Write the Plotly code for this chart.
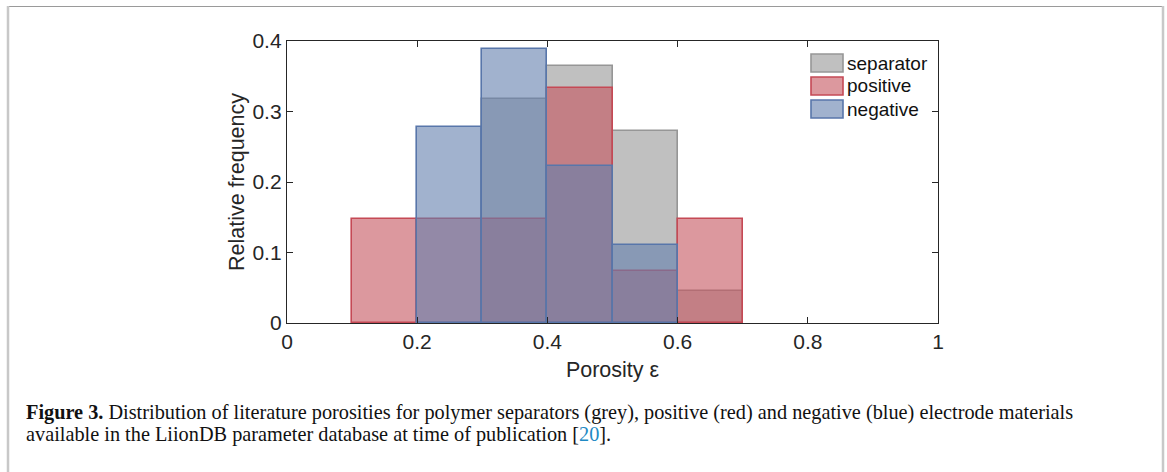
import plotly.graph_objects as go

# bin edges 0..1 step 0.1, values = relative frequency per bin
bin_left = [0.0, 0.1, 0.2, 0.3, 0.4, 0.5, 0.6, 0.7, 0.8, 0.9]
separator = [0, 0, 0, 0.318, 0.364, 0.273, 0.045, 0, 0, 0]
positive = [0, 0.148, 0.148, 0.148, 0.333, 0.074, 0.148, 0, 0, 0]
negative = [0, 0, 0.278, 0.389, 0.222, 0.111, 0, 0, 0, 0]
names = ["separator", "positive", "negative"]

fills = ["rgba(150,150,150,0.6)", "rgba(197,83,93,0.6)", "rgba(98,127,173,0.6)"]
edges = ["rgb(150,150,150)", "rgb(197,73,85)", "rgb(88,118,170)"]

W, H = 1167, 472
L, R, T, B = 287, 938, 41, 323  # plot area in px


def px_x(p):
    return (p - L) / (R - L)


def px_y(p):
    return (B - p) / (B - T)


fig = go.Figure()
for vals, name, fc, ec in zip([separator, positive, negative], names, fills, edges):
    # empty bins are left out so their outline does not sit on the axis
    fig.add_trace(go.Bar(
        x=[b + 0.05 for b in bin_left], y=[v if v else None for v in vals], width=0.1, name=name,
        marker=dict(color=fc, line=dict(color=ec, width=1.6)),
        showlegend=False,
    ))

sans = "Liberation Sans, Arial, sans-serif"
dark = "#262626"

fig.update_layout(
    width=W, height=H,
    margin=dict(l=L, r=W - R, t=T, b=H - B, autoexpand=False),
    paper_bgcolor="white", plot_bgcolor="white",
    barmode="overlay", bargap=0,
    font=dict(family=sans, size=21, color=dark),
    xaxis=dict(
        range=[0, 1], tickvals=[0, 0.2, 0.4, 0.6, 0.8, 1], ticktext=["0", "0.2", "0.4", "0.6", "0.8", "1"],
        ticks="inside", ticklen=6, tickcolor=dark, tickwidth=1.3,
        showline=True, linecolor=dark, linewidth=1.3, mirror="allticks",
        showgrid=False, zeroline=False, layer="above traces",
        tickfont=dict(size=21),
        title=dict(text="Porosity ε", font=dict(size=21.5), standoff=9),
    ),
    yaxis=dict(
        range=[0, 0.4], tickvals=[0, 0.1, 0.2, 0.3, 0.4], ticktext=["0", "0.1", "0.2", "0.3", "0.4"],
        ticks="inside", ticklen=6, tickcolor=dark, tickwidth=1.3,
        showline=True, linecolor=dark, linewidth=1.3, mirror="allticks",
        showgrid=False, zeroline=False, layer="above traces",
        tickfont=dict(size=21),
        title=dict(text="Relative frequency", font=dict(size=21.5), standoff=1),
    ),
)

# legend drawn by hand (wide swatches like the original)
for i, (name, fc, ec) in enumerate(zip(names, fills, edges)):
    yc = 63 + 23 * i
    fig.add_shape(type="rect", xref="paper", yref="paper",
                  x0=px_x(811), x1=px_x(843), y0=px_y(yc + 9), y1=px_y(yc - 9),
                  fillcolor=fc, line=dict(color=ec, width=1.6))
    fig.add_annotation(xref="paper", yref="paper", x=px_x(845), y=px_y(yc),
                       text=name, showarrow=False, xanchor="left", yanchor="middle",
                       font=dict(size=19, color="#111"))

# outer frame
fig.add_shape(type="line", xref="paper", yref="paper", x0=px_x(7), x1=px_x(1164),
              y0=px_y(6.5), y1=px_y(6.5), line=dict(color="#9a9a9a", width=1))
fig.add_shape(type="line", xref="paper", yref="paper", x0=px_x(8), x1=px_x(8),
              y0=px_y(6), y1=px_y(480), line=dict(color="#c8c8c8", width=2.5))
fig.add_shape(type="line", xref="paper", yref="paper", x0=px_x(1163), x1=px_x(1163),
              y0=px_y(6), y1=px_y(480), line=dict(color="#c8c8c8", width=2.5))

caption_font = dict(family="Liberation Serif, Times New Roman, serif", size=20.3, color="#111")
fig.add_annotation(
    xref="paper", yref="paper", x=px_x(24), y=px_y(412), xanchor="left", yanchor="middle",
    showarrow=False, font=caption_font, align="left",
    text="<b>Figure 3.</b> Distribution of literature porosities for polymer separators (grey), "
         "positive (red) and negative (blue) electrode materials",
)
fig.add_annotation(
    xref="paper", yref="paper", x=px_x(24), y=px_y(434), xanchor="left", yanchor="middle",
    showarrow=False, font=caption_font, align="left",
    text="available in the LiionDB parameter database at time of publication "
         "[<span style='color:#1f8ac4'>20</span>].",
)

fig.write_html("out.html", config={"displayModeBar": False},
               post_script="document.body.style.margin='0px';")
